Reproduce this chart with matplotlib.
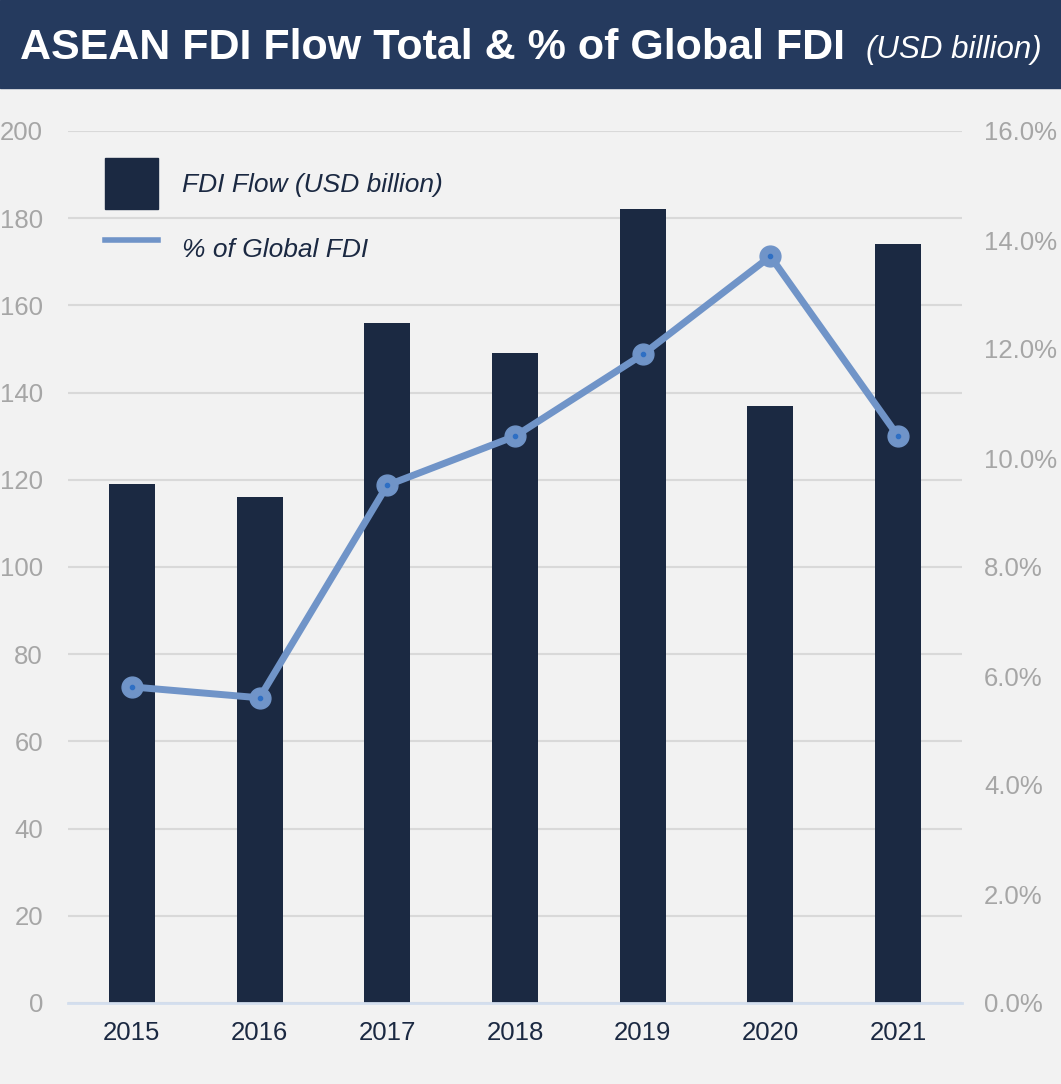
import matplotlib.pyplot as plt
import matplotlib.patches as mpatches
from matplotlib.lines import Line2D
from matplotlib.ticker import FuncFormatter

plt.rcParams['font.family'] = ['Liberation Sans', 'DejaVu Sans']

# ASEAN FDI inflows and share of global FDI
years = ['2015', '2016', '2017', '2018', '2019', '2020', '2021']
fdi_flow = [119, 116, 156, 149, 182, 137, 174]          # USD billion
global_share = [5.8, 5.6, 9.5, 10.4, 11.9, 13.7, 10.4]  # % of global FDI

bg = '#f2f2f2'
navy = '#1b2942'
header = '#253a5e'
line_blue = '#7094c8'
tick_grey = '#a6a6a6'

fig = plt.figure(figsize=(10.61, 10.84), dpi=100, facecolor=bg)
ax = fig.add_axes([68 / 1061, 1 - 1003 / 1084, (962 - 68) / 1061, (1003 - 131) / 1084])
ax.set_facecolor(bg)

# header band
fig.patches.append(mpatches.Rectangle((0, 1 - 88 / 1084), 1, 88 / 1084,
                                      transform=fig.transFigure, color=header, zorder=0))
fig.text(20 / 1061, 1 - 48 / 1084, 'ASEAN FDI Flow Total & % of Global FDI',
         color='white', fontsize=31, fontweight='bold', va='center', ha='left')
fig.text(1042 / 1061, 1 - 50 / 1084, '(USD billion)', color='white', fontsize=22.5,
         style='italic', va='center', ha='right')

x = list(range(len(years)))
ax.bar(x, fdi_flow, width=0.36, color=navy, zorder=2)
ax.set_xlim(-0.5, len(years) - 0.5)
ax.set_ylim(0, 200)
ax.set_yticks(range(0, 201, 20))
ax.set_xticks(x)
ax.set_xticklabels(years)
ax.grid(axis='y', color='#d9d9d9', linewidth=1.5, zorder=0)
ax.set_axisbelow(True)
for s in ['top', 'left', 'right']:
    ax.spines[s].set_visible(False)
ax.spines['bottom'].set_color('#d3deee')
ax.spines['bottom'].set_linewidth(2)
ax.tick_params(axis='y', length=0, pad=18, labelsize=18.5, labelcolor=tick_grey)
ax.tick_params(axis='x', length=0, pad=13, labelsize=18.5, labelcolor=navy)

ax2 = ax.twinx()
ax2.set_ylim(0, 16)
ax2.set_yticks(range(0, 17, 2))
ax2.yaxis.set_major_formatter(FuncFormatter(lambda v, p: f'{v:.1f}%'))
ax2.tick_params(axis='y', length=0, pad=16, labelsize=18.5, labelcolor=tick_grey)
for s in ax2.spines.values():
    s.set_visible(False)
ax2.plot(x, global_share, color=line_blue, linewidth=5, marker='o',
         markersize=15, markerfacecolor=line_blue, markeredgecolor=line_blue,
         solid_capstyle='round', zorder=3)
ax2.plot(x, global_share, linestyle='none', marker='o', markersize=3,
         color='#2e6fc4', zorder=4)

handles = [mpatches.Patch(color=navy, label='FDI Flow (USD billion)'),
           Line2D([], [], color=line_blue, linewidth=4, label='% of Global FDI')]
fig.legend(handles=handles, loc='upper left',
           bbox_to_anchor=(105 / 1061, 1 - 158 / 1084), frameon=False,
           borderpad=0, borderaxespad=0, handlelength=2.0, handleheight=2.6,
           handletextpad=0.9, labelspacing=0.55,
           prop={'size': 19, 'style': 'italic'}, labelcolor=navy)

fig.savefig('out.png', dpi=100, facecolor=bg)
